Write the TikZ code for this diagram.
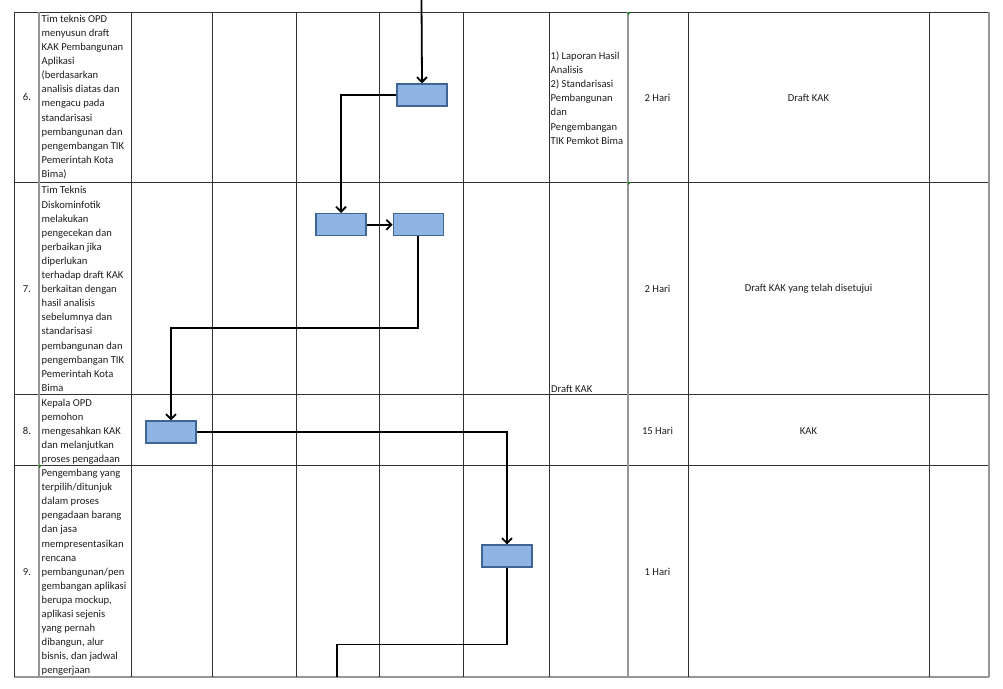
\documentclass[tikz,border=0pt]{standalone}
\usepackage{fontspec}
\setmainfont{Carlito}
\usetikzlibrary{arrows.meta}
\definecolor{boxfill}{RGB}{141,180,226}
\definecolor{boxline}{RGB}{65,100,150}
\definecolor{gridline}{RGB}{50,50,50}
\definecolor{gridgray}{RGB}{150,150,150}
\definecolor{txt}{RGB}{30,30,30}
\definecolor{greenmark}{RGB}{20,120,20}
\begin{document}
\begin{tikzpicture}[x=1pt,y=-1pt,
  cell/.style={font=\fontsize{10.6}{14.1}\selectfont, text=txt, inner sep=0pt},
  lefttext/.style={cell, align=left, anchor=west},
  procbox/.style={draw=boxline, fill=boxfill, line width=1.4pt, minimum width=50pt, minimum height=22pt, inner sep=0pt},
  flow/.style={line width=1.8pt, black},
  flowarrow/.style={flow, -{Straight Barb[length=5pt,width=10pt,line width=1.8pt]}},
  grid/.style={gridline, line width=0.8pt},
  gridg/.style={gridgray, line width=1.3pt}
]
\useasboundingbox (0,0) rectangle (1003,688);
\fill[white] (0,0) rectangle (1003,688);

% horizontal grid lines
\foreach \y in {12,182,394,465}
  \draw[grid] (14,\y) -- (989,\y);
\draw[gridg] (14,677) -- (989,677);
% vertical grid lines
\foreach \x in {14,131,212,296,379,463,549,688,929}
  \draw[grid] (\x,12) -- (\x,677);
\foreach \x in {39,628,989}
  \draw[gridg] (\x,12) -- (\x,677);

% small green marks
\fill[greenmark] (628,12) -- ++(3,0) -- ++(-3,3) -- cycle;
\fill[greenmark] (628,182) -- ++(3,0) -- ++(-3,3) -- cycle;
\fill[greenmark] (39,465) -- ++(3,0) -- ++(-3,3) -- cycle;

% row numbers
\node[cell] (n6) at (27,97) {6.};
\node[cell] (n7) at (27,289) {7.};
\node[cell] (n8) at (27,431) {8.};
\node[cell] (n9) at (27,572) {9.};

% activity texts
\node[lefttext] (t6) at (41.5,97) {Tim teknis OPD\\menyusun draft\\KAK Pembangunan\\Aplikasi\\(berdasarkan\\analisis diatas dan\\mengacu pada\\standarisasi\\pembangunan dan\\pengembangan TIK\\Pemerintah Kota\\Bima)};
\node[lefttext] (t7) at (41.5,289) {Tim Teknis\\Diskominfotik\\melakukan\\pengecekan dan\\perbaikan jika\\diperlukan\\terhadap draft KAK\\berkaitan dengan\\hasil analisis\\sebelumnya dan\\standarisasi\\pembangunan dan\\pengembangan TIK\\Pemerintah Kota\\Bima};
\node[lefttext] (t8) at (41.5,431.5) {Kepala OPD\\pemohon\\mengesahkan KAK\\dan melanjutkan\\proses pengadaan};
\node[lefttext] (t9) at (41.5,572.5) {Pengembang yang\\terpilih/ditunjuk\\dalam proses\\pengadaan barang\\dan jasa\\mempresentasikan\\rencana\\pembangunan/pen\\gembangan aplikasi\\berupa mockup,\\aplikasi sejenis\\yang pernah\\dibangun, alur\\bisnis, dan jadwal\\pengerjaan};

% input column
\node[lefttext] (i6) at (550.5,98) {1) Laporan Hasil\\Analisis\\2) Standarisasi\\Pembangunan\\dan\\Pengembangan\\TIK Pemkot Bima};
\node[lefttext, anchor=base west] (i7) at (551,392) {Draft KAK};

% time column
\node[cell] (w6) at (657.5,98) {2 Hari};
\node[cell] (w7) at (657.5,289) {2 Hari};
\node[cell] (w8) at (657.5,431) {15 Hari};
\node[cell] (w9) at (657.5,572) {1 Hari};

% output column
\node[cell] (o6) at (808.5,98) {Draft KAK};
\node[cell] (o7) at (808.5,289) {Draft KAK yang telah disetujui};
\node[cell] (o8) at (808.5,431) {KAK};

% process boxes
\node[procbox] (b1) at (422,95) {};
\node[procbox] (b2) at (341,224.7) {};
\node[procbox] (b3) at (418.3,224.7) {};
\node[procbox] (b4) at (171,432) {};
\node[procbox] (b5) at (507,556) {};

% connector helper coordinates
\coordinate (top) at (421.5,0);
\coordinate (k1) at (0,328);
\coordinate (k2) at (0,644.5);
\coordinate (bot) at (337,677);

% connectors
\draw[flowarrow] (top) -- (b1.north);
\draw[flowarrow] (b1.west) -| (b2.north);
\draw[flowarrow] (b2.east) -- (b3.west);
\draw[flowarrow] (b3.south) -- (b3.south |- k1) -| (b4.north);
\draw[flowarrow] (b4.east) -| (b5.north);
\draw[flow] (b5.south) -- (b5.south |- k2) -| (bot);
\end{tikzpicture}
\end{document}
